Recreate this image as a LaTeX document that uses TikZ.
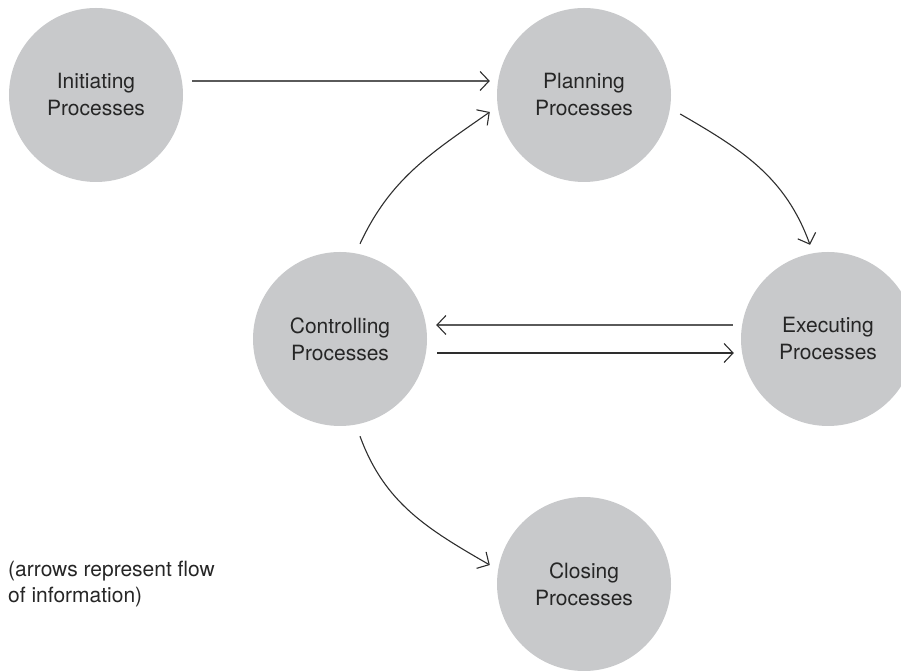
\documentclass[tikz,border=0pt]{standalone}
\usepackage{fontspec}
\setmainfont{TeX Gyre Heros}
\usetikzlibrary{arrows.meta}
\definecolor{circfill}{HTML}{C8C9CB}
\definecolor{arrowcol}{HTML}{2E2E2E}
\definecolor{greyline}{HTML}{5A5A5A}
\begin{document}
\begin{tikzpicture}[x=1pt,y=1pt,
  proc/.style={circle, fill=circfill, minimum size=174pt, inner sep=0pt, align=center,
    font=\fontsize{21}{27}\selectfont, text=black!85},
  flow/.style={draw=arrowcol, line width=1.1pt, -{Straight Barb[length=9pt,width=19pt,line width=1.1pt,color=arrowcol]}},
  greyflow/.style={flow, draw=greyline, line width=1.4pt},
  note/.style={align=left, anchor=west, inner sep=0pt, font=\fontsize{21}{26}\selectfont, text=black!85}]
\useasboundingbox (0,0) rectangle (901,671);
\node[proc] (init) at (96,576) {Initiating\\Processes};
\node[proc] (plan) at (584,576) {Planning\\Processes};
\node[proc] (ctrl) at (340,332) {Controlling\\Processes};
\node[proc] (exec) at (828,332) {Executing\\Processes};
\node[proc] (close) at (584,87) {Closing\\Processes};
\node[note] (legend) at (8,87) {(arrows represent flow\\of information)};
\draw[greyflow] ([shift={(9,14)}]init.east) -- ([shift={(-7,14)}]plan.west);
\draw[flow] ([shift={(20,8)}]ctrl.north) to[out=65,in=215] ([shift={(-7,-17)}]plan.west);
\draw[flow] ([shift={(9,-19)}]plan.east) to[out=-30,in=110] ([shift={(-18,7)}]exec.north);
\draw[greyflow] ([shift={(-8,14)}]exec.west) -- ([shift={(9,14)}]ctrl.east);
\draw[flow] ([shift={(10,-14)}]ctrl.east) -- ([shift={(-7,-14)}]exec.west);
\draw[flow] ([shift={(20,-10)}]ctrl.south) to[out=-70,in=150] ([shift={(-7,19)}]close.west);
\end{tikzpicture}
\end{document}
